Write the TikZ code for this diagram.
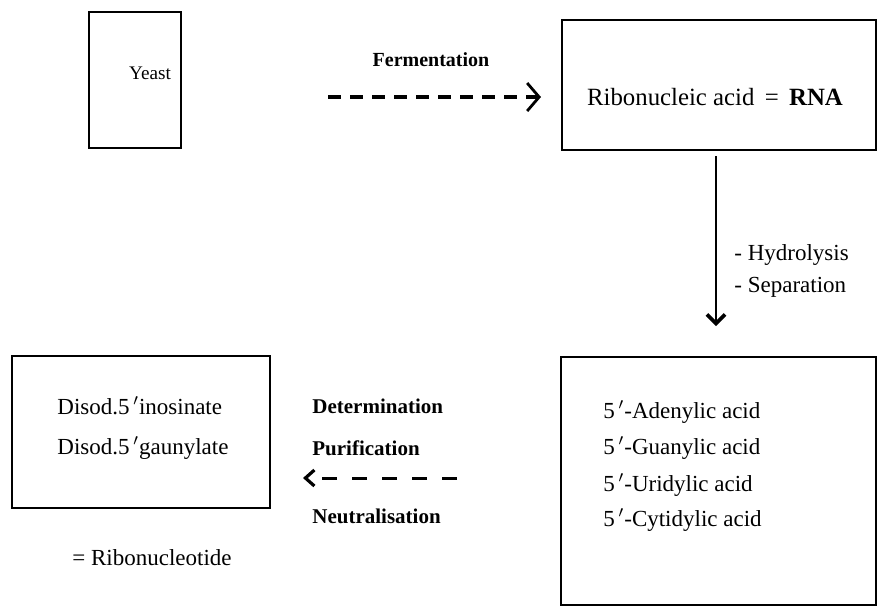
\documentclass[tikz,border=0pt]{standalone}
\usepackage{fontspec}
\setmainfont{Liberation Serif}
\usetikzlibrary{arrows.meta, positioning}

\begin{document}
\begin{tikzpicture}[x=0.5pt, y=-0.5pt,
    box/.style={draw, line width=1pt, inner sep=0pt},
    txt/.style={font=\fontsize{11.5}{13}\selectfont, inner sep=0pt},
    lbl/.style={font=\fontsize{10.5}{12}\selectfont\bfseries, inner sep=0pt},
    flow/.style={line width=1.6pt, dash pattern=on 6.5pt off 4.5pt}]
      \useasboundingbox (0,0) rectangle (879,607);

      \def\LabTop{Fermentation}
      \def\LabA{Determination}
      \def\LabB{Purification}
      \def\LabC{Neutralisation}

      \node[box, minimum width=46pt, minimum height=68pt] (yeast) at (135,80) {};
      \node[box, minimum width=157pt, minimum height=65pt] (rna) at (719,85) {};
      \node[box, minimum width=157.5pt, minimum height=124pt] (acids) at (718.5,481) {};
      \node[box, minimum width=129pt, minimum height=76pt] (salts) at (141,432) {};

      \node[txt, font=\fontsize{9.6}{11}\selectfont] (yeastT) at (150,73) {Yeast};
      \node[txt, font=\fontsize{12.4}{14}\selectfont] (rnaT) at (715,97) {Ribonucleic acid \,=\, \textbf{RNA}};

      \foreach \y/\name in {412/Adenylic, 448/Guanylic, 485/Uridylic, 520/Cytidylic}{
        \node[txt, anchor=west] (acid\name) at (603,\y) {5\,$'$-\name{} acid};
      }

      \node[txt, anchor=west] (ino) at (57,406) {Disod.5\,$'$inosinate};
      \node[txt, anchor=west] (gua) at (57,448) {Disod.5\,$'$gaunylate};
      \node[txt, anchor=west] (ribo) at (72,558) {= Ribonucleotide};

      \node[lbl, font=\fontsize{10}{12}\selectfont\bfseries] (ferm) at (431,60) {\LabTop};
      \node[lbl, anchor=west] (detm) at (312,406) {\LabA};
      \node[lbl, anchor=west] (puri) at (312,448) {\LabB};
      \node[lbl, anchor=west] (neut) at (312,516) {\LabC};

      \node[txt, anchor=west] (hydro) at (734,255) {- Hydrolysis};
      \node[txt, anchor=west] (sepa) at (734,287) {- Separation};

      \coordinate (fermA) at (328,97);
      \coordinate (fermB) at (541,97);
      \coordinate (purA) at (457,478);
      \coordinate (purB) at (303,478);

      \draw[flow, -{Straight Barb[length=6pt, width=14pt, line width=1.4pt]}] (fermA) -- (fermB);
      \draw[flow, line width=1.5pt, dash pattern=on 7.5pt off 7.5pt, -{Straight Barb[length=4.5pt, width=8pt, line width=1.6pt]}] (purA) -- (purB);
      \draw[line width=1.2pt, -{Straight Barb[length=4.5pt, width=9pt, line width=1.8pt]}]
        (rna.south -| 716,0) ++(0,5) coordinate (hydA) -- (716,326) coordinate (hydB);
\end{tikzpicture}
\end{document}
